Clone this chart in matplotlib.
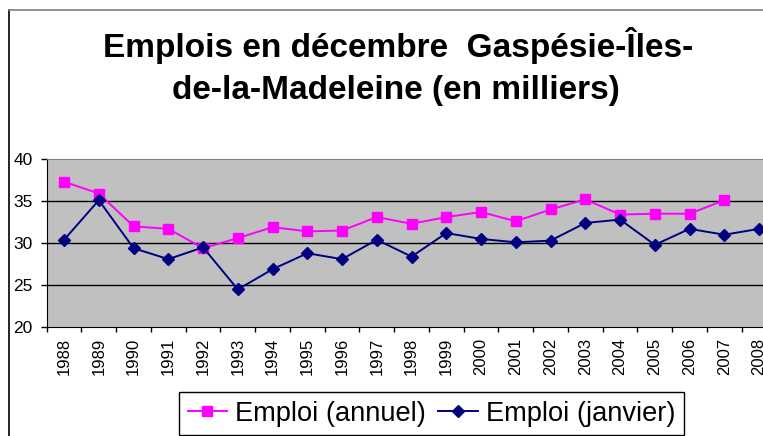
import numpy as np
import matplotlib
matplotlib.use("Agg")
import matplotlib.pyplot as plt
from matplotlib.lines import Line2D

plt.rcParams['font.family'] = ['Liberation Sans', 'DejaVu Sans']

years = [str(y) for y in range(1988, 2009)]
annuel = [37.3, 35.9, 32.0, 31.7, 29.4, 30.6, 31.9, 31.4, 31.5, 33.1,
          32.3, 33.1, 33.7, 32.6, 34.0, 35.2, 33.4, 33.5, 33.5, 35.1, np.nan]
janvier = [30.4, 35.1, 29.4, 28.1, 29.5, 24.5, 26.9, 28.8, 28.1, 30.4,
           28.4, 31.2, 30.5, 30.1, 30.3, 32.4, 32.8, 29.8, 31.7, 31.0, 31.7]
yticks = [20, 25, 30, 35, 40]

W, H = 763, 436
fig = plt.figure(figsize=(W / 100, H / 100), dpi=100)

# chart frame (left and top edges visible)
fig.add_artist(Line2D([8.5 / W, 8.5 / W], [0, 1 - 10.5 / H], color='black', lw=1.2))
fig.add_artist(Line2D([8.5 / W, 1], [1 - 10.5 / H, 1 - 10.5 / H], color='#808080', lw=1.2))

# title
fig.text(398 / W, 1 - 57 / H, "Emplois en décembre  Gaspésie-Îles-",
         ha='center', va='baseline', fontsize=24, fontweight='bold')
fig.text(396 / W, 1 - 99 / H, "de-la-Madeleine (en milliers)",
         ha='center', va='baseline', fontsize=24, fontweight='bold')

left, bottom, top = 46.7, 327.3, 159
width = 21 * 34.75
ax = fig.add_axes([left / W, 1 - bottom / H, width / W, (bottom - top) / H])
ax.set_facecolor('#C0C0C0')

x = np.arange(len(years))
ax.plot(x, annuel, color='#FF00FF', marker='s', ms=7, lw=1.4,
        label='Emploi (annuel)', zorder=3)
ax.plot(x, janvier, color='#000080', marker='D', ms=6.5, lw=1.4,
        label='Emploi (janvier)', zorder=4)

ax.set_xlim(-0.5, len(years) - 0.5)
ax.set_ylim(20, 40)
ax.set_yticks(yticks)
ax.tick_params(axis='y', labelsize=12.5, length=4.3, width=1, pad=6)
ax.set_xticks(x)
ax.set_xticklabels(years, rotation=90)
ax.set_xticks(np.arange(-0.5, len(years)), minor=True)
ax.tick_params(axis='x', which='major', length=0, labelsize=12, pad=7.5)
ax.tick_params(axis='x', which='minor', length=3.5, width=1)

for v in [25, 30, 35]:
    ax.axhline(v, color='black', lw=1, zorder=1)

ax.spines['top'].set_color('#808080')
ax.spines['right'].set_visible(False)
ax.spines['left'].set_color('black')
ax.spines['bottom'].set_color('black')

leg = fig.legend(loc='upper left', bbox_to_anchor=(179 / W, 1 - 392 / H),
                 ncol=2, fontsize=19.6, frameon=True, fancybox=False,
                 edgecolor='black', framealpha=1, borderpad=0.32,
                 handlelength=1.45, handletextpad=0.3, columnspacing=0.45,
                 borderaxespad=0)
leg.get_frame().set_linewidth(1)

fig.savefig('out.png', dpi=100)
